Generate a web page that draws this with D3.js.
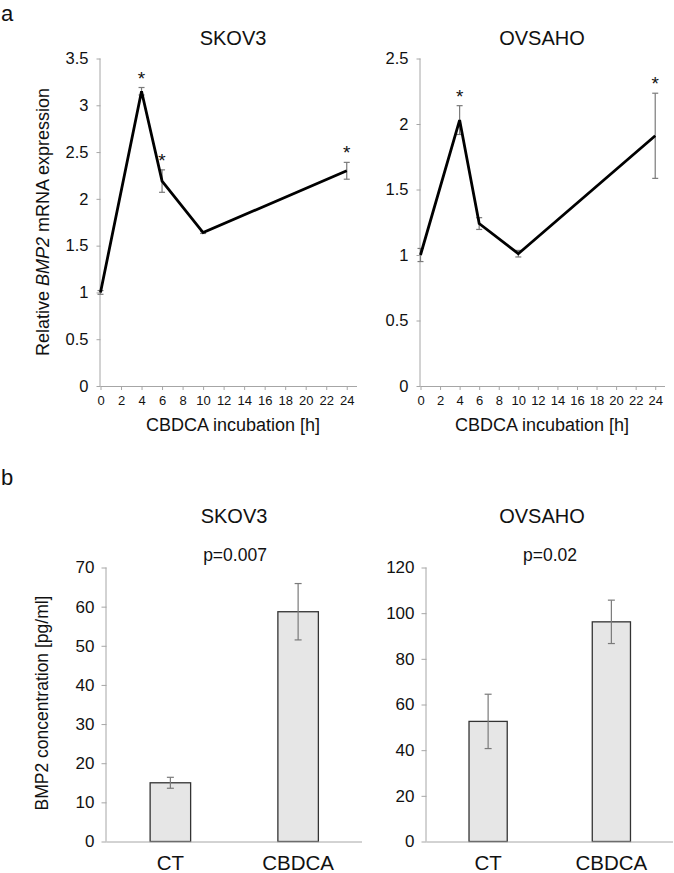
<!DOCTYPE html>
<html><head><meta charset="utf-8">
<script src="https://cdn.jsdelivr.net/npm/d3@7"></script>
<style>
body{margin:0;background:#fff;}
svg{display:block;font-family:"Liberation Sans",Arial,sans-serif;}
</style></head><body>
<svg id="c" width="674" height="873"></svg>
<script>
// ---- Data ----
const hours = [0, 4, 6, 10, 24];
const skov3Expr = [1.0, 3.15, 2.19, 1.64, 2.30];
const skov3ExprErr = [0.02, 0.04, 0.12, 0.01, 0.09];
const skov3Stars = [false, true, true, false, true];
const ovsahoExpr = [1.0, 2.03, 1.24, 1.01, 1.91];
const ovsahoExprErr = [0.05, 0.11, 0.045, 0.025, 0.325];
const ovsahoStars = [false, true, false, false, true];
const xTicks = [0,2,4,6,8,10,12,14,16,18,20,22,24];
const skov3YTicks = [0,0.5,1,1.5,2,2.5,3,3.5];
const ovsahoYTicks = [0,0.5,1,1.5,2,2.5];

const groups = ["CT", "CBDCA"];
const skov3Conc = [15.0, 58.7];
const skov3ConcErr = [1.4, 7.2];
const ovsahoConc = [52.6, 96.2];
const ovsahoConcErr = [11.9, 9.5];
const skov3ConcTicks = [0,10,20,30,40,50,60,70];
const ovsahoConcTicks = [0,20,40,60,80,100,120];

const svg = d3.select("#c");
const axisCol = "#a6a6a6";
const errCol = "#7a7a7a";
const txtCol = "#111";

function styleAxis(g){
  g.select(".domain").attr("stroke", axisCol).attr("stroke-width",1);
  g.selectAll(".tick line").attr("stroke", axisCol);
  g.selectAll(".tick text").attr("fill",txtCol).attr("font-family","Liberation Sans, Arial, sans-serif");
}

function linePanel(opt){
  const x = d3.scaleLinear().domain([0,25]).range([opt.x0, opt.x1]);
  const y = d3.scaleLinear().domain([0, opt.ymax]).range([386, 58.5]);
  const gx = svg.append("g").attr("transform",`translate(0,${y(0)})`)
    .call(d3.axisBottom(x).tickValues(xTicks).tickSize(4).tickPadding(6).tickFormat(d3.format("d")));
  styleAxis(gx); gx.selectAll(".tick text").attr("font-size",13);
  gx.select(".domain").attr("d",`M${opt.x0},0.5H${opt.x1}`);
  const gy = svg.append("g").attr("transform",`translate(${opt.x0},0)`)
    .call(d3.axisLeft(y).tickValues(opt.yTicks).tickSize(4).tickPadding(8).tickFormat(d3.format("")));
  styleAxis(gy); gy.selectAll(".tick text").attr("font-size",16.5);
  gy.select(".domain").attr("d",`M-0.5,${y(opt.ymax)}V${y(0)}`);
  // error bars
  const eb = svg.append("g").attr("stroke", errCol).attr("stroke-width",1.2);
  hours.forEach((h,i)=>{
    const cx = x(h), hi = y(opt.vals[i]+opt.errs[i]), lo = y(opt.vals[i]-opt.errs[i]);
    eb.append("line").attr("x1",cx).attr("x2",cx).attr("y1",hi).attr("y2",lo);
    eb.append("line").attr("x1",cx-3).attr("x2",cx+3).attr("y1",hi).attr("y2",hi);
    eb.append("line").attr("x1",cx-3).attr("x2",cx+3).attr("y1",lo).attr("y2",lo);
  });
  svg.append("path").datum(hours.map((h,i)=>[h,opt.vals[i]]))
    .attr("d", d3.line().x(d=>x(d[0])).y(d=>y(d[1])))
    .attr("fill","none").attr("stroke","#000").attr("stroke-width",2.8).attr("stroke-linejoin","miter");
  hours.forEach((h,i)=>{
    if(opt.stars[i]) svg.append("text").attr("x",x(h)).attr("y",y(opt.vals[i]+opt.errs[i])-3)
      .attr("text-anchor","middle").attr("font-size",19).attr("fill",txtCol).text("*");
  });
  svg.append("text").attr("x",opt.tx).attr("y",45).attr("text-anchor","middle")
    .attr("font-size",20).attr("fill",txtCol).text(opt.title);
  svg.append("text").attr("x",opt.tx).attr("y",431).attr("text-anchor","middle")
    .attr("font-size",18).attr("fill",txtCol).text("CBDCA incubation [h]");
}

linePanel({x0:100.5, x1:357, ymax:3.5, yTicks:skov3YTicks, vals:skov3Expr, errs:skov3ExprErr, stars:skov3Stars, title:"SKOV3", tx:233});
linePanel({x0:420.5, x1:665, ymax:2.5, yTicks:ovsahoYTicks, vals:ovsahoExpr, errs:ovsahoExprErr, stars:ovsahoStars, title:"OVSAHO", tx:542});

// y label a
const yl = svg.append("text").attr("transform","translate(49,222) rotate(-90)")
  .attr("text-anchor","middle").attr("font-size",18).attr("fill",txtCol);
yl.append("tspan").text("Relative ");
yl.append("tspan").attr("font-style","italic").text("BMP2");
yl.append("tspan").text(" mRNA expression");

svg.append("text").attr("x",1).attr("y",21).attr("font-size",22).attr("fill",txtCol).text("a");
svg.append("text").attr("x",1).attr("y",485).attr("font-size",22).attr("fill",txtCol).text("b");

function barPanel(opt){
  const x = d3.scaleBand().domain(groups).range([opt.x0, opt.x1]).paddingInner(opt.pad).paddingOuter(opt.pad/2);
  const y = d3.scaleLinear().domain([0, opt.ymax]).range([841.5, 567.5]);
  const gy = svg.append("g").attr("transform",`translate(${opt.x0},0)`)
    .call(d3.axisLeft(y).tickValues(opt.yTicks).tickSize(5).tickPadding(7));
  styleAxis(gy); gy.selectAll(".tick text").attr("font-size",17);
  gy.select(".domain").attr("d",`M-0.5,${y(opt.ymax)}V${y(0)}`);
  svg.append("g").selectAll("rect").data(groups).join("rect")
    .attr("x",d=>x(d)).attr("width",x.bandwidth())
    .attr("y",(d,i)=>y(opt.vals[i])).attr("height",(d,i)=>y(0)-y(opt.vals[i]))
    .attr("fill","#e6e6e6").attr("stroke","#333").attr("stroke-width",1.3);
  const gx = svg.append("g").attr("transform",`translate(0,${y(0)})`)
    .call(d3.axisBottom(x).tickSize(0).tickPadding(14));
  styleAxis(gx); gx.selectAll(".tick text").attr("font-size",20.5).attr("dy",null).attr("y",28);
  gx.select(".domain").attr("d",`M${opt.x0},0.5H${opt.x1}`);
  const eb = svg.append("g").attr("stroke", errCol).attr("stroke-width",1.2);
  groups.forEach((g,i)=>{
    const cx = x(g)+x.bandwidth()/2, hi=y(opt.vals[i]+opt.errs[i]), lo=y(opt.vals[i]-opt.errs[i]);
    eb.append("line").attr("x1",cx).attr("x2",cx).attr("y1",hi).attr("y2",lo);
    eb.append("line").attr("x1",cx-3.5).attr("x2",cx+3.5).attr("y1",hi).attr("y2",hi);
    eb.append("line").attr("x1",cx-3.5).attr("x2",cx+3.5).attr("y1",lo).attr("y2",lo);
  });
  svg.append("text").attr("x",opt.tx).attr("y",523).attr("text-anchor","middle")
    .attr("font-size",20).attr("fill",txtCol).text(opt.title);
  svg.append("text").attr("x",opt.px).attr("y",561).attr("text-anchor","middle")
    .attr("font-size",17.5).attr("fill",txtCol).text(opt.p);
}

barPanel({x0:106.5, x1:362, pad:0.683, ymax:70, yTicks:skov3ConcTicks, vals:skov3Conc, errs:skov3ConcErr, title:"SKOV3", tx:234, p:"p=0.007", px:235});
barPanel({x0:426.5, x1:673, pad:0.69, ymax:120, yTicks:ovsahoConcTicks, vals:ovsahoConc, errs:ovsahoConcErr, title:"OVSAHO", tx:542, p:"p=0.02", px:550});

svg.append("text").attr("transform","translate(48,703) rotate(-90)")
  .attr("text-anchor","middle").attr("font-size",17.5).attr("fill",txtCol).text("BMP2 concentration [pg/ml]");
</script>
</body></html>
